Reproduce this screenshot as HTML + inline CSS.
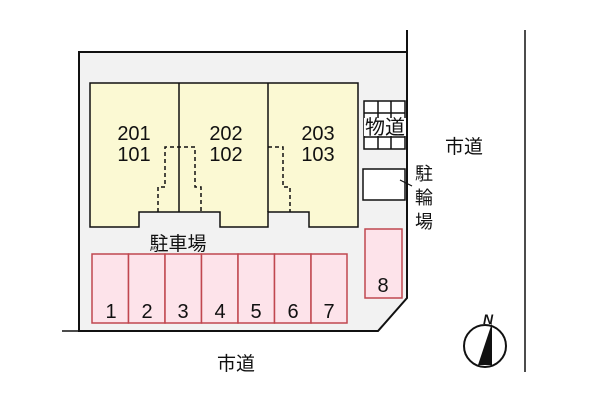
<!DOCTYPE html>
<html><head><meta charset="utf-8"><style>
body{margin:0;background:#fff;width:600px;height:400px;overflow:hidden}
text{font-family:"Liberation Sans","Noto Sans CJK JP",sans-serif;fill:#111}
</style></head><body>
<svg width="600" height="400" viewBox="0 0 600 400">
<polygon points="79,52 407,52 407,298 378,331 79,331" fill="#f2f2f2" stroke="#111" stroke-width="2"/>
<line x1="407" y1="30" x2="407" y2="298" stroke="#111" stroke-width="2"/>
<line x1="62" y1="331" x2="79" y2="331" stroke="#111" stroke-width="1.5"/>
<line x1="525" y1="30" x2="525" y2="372" stroke="#111" stroke-width="1.5"/>
<polygon points="90,83 358,83 358,227 309,227 309,212 268,212 268,227 220,227 220,212 139,212 139,227 90,227" fill="#fbf9d3" stroke="#111" stroke-width="1.5"/>
<line x1="179" y1="83" x2="179" y2="212" stroke="#111" stroke-width="1.5"/>
<line x1="268" y1="83" x2="268" y2="212" stroke="#111" stroke-width="1.5"/>
<g fill="none" stroke="#111" stroke-width="1.5" stroke-dasharray="4,3">
<polyline points="158,212 158,187 165,187 165,147 195,147 195,187 201,187 201,212"/>
<polyline points="268,147 283,147 283,187 290,187 290,212"/>
</g>
<g font-size="20" text-anchor="middle">
<text x="134" y="140">201</text><text x="134" y="161">101</text>
<text x="226" y="140">202</text><text x="226" y="161">102</text>
<text x="318" y="140">203</text><text x="318" y="161">103</text>
</g>
<g stroke="#111" stroke-width="1.5" fill="#fff">
<rect x="364" y="101" width="41" height="48"/>
<line x1="378" y1="101" x2="378" y2="149"/><line x1="391" y1="101" x2="391" y2="149"/>
<line x1="364" y1="113" x2="405" y2="113"/><line x1="364" y1="125" x2="405" y2="125"/><line x1="364" y1="137" x2="405" y2="137"/>
</g>
<rect x="364" y="118" width="42" height="18" fill="#fff"/>
<text x="385" y="134" font-size="20" text-anchor="middle">物道</text>
<rect x="363" y="169" width="42" height="31" fill="#fff" stroke="#111" stroke-width="1.5"/>
<line x1="400" y1="180" x2="412" y2="186" stroke="#111" stroke-width="1.2"/>
<g font-size="18" text-anchor="middle"><text x="424" y="180">駐</text><text x="424" y="204">輪</text><text x="424" y="228">場</text></g>
<text x="464" y="153" font-size="19" text-anchor="middle">市道</text>
<text x="178" y="250" font-size="19" text-anchor="middle">駐車場</text>
<g fill="#fde3ea" stroke="#c0474f" stroke-width="1.5">
<rect x="92" y="254" width="36.5" height="69"/><rect x="128.5" y="254" width="36.5" height="69"/>
<rect x="165" y="254" width="36.5" height="69"/><rect x="201.5" y="254" width="36.5" height="69"/>
<rect x="238" y="254" width="36.5" height="69"/><rect x="274.5" y="254" width="36.5" height="69"/>
<rect x="311" y="254" width="36" height="69"/>
<rect x="365" y="229" width="37" height="69"/>
</g>
<g font-size="20" text-anchor="middle">
<text x="111" y="318">1</text><text x="147" y="318">2</text><text x="183" y="318">3</text><text x="220" y="318">4</text><text x="256" y="318">5</text><text x="293" y="318">6</text><text x="329" y="318">7</text><text x="383" y="292">8</text>
</g>
<text x="236" y="370" font-size="19" text-anchor="middle">市道</text>
<circle cx="485" cy="346" r="21" fill="#fff" stroke="#111" stroke-width="2"/>
<polygon points="492,323 478,365 492,365" fill="#111"/>
<text x="488" y="324" font-size="14" font-weight="bold" font-style="italic" text-anchor="middle">N</text>
</svg>
</body></html>
